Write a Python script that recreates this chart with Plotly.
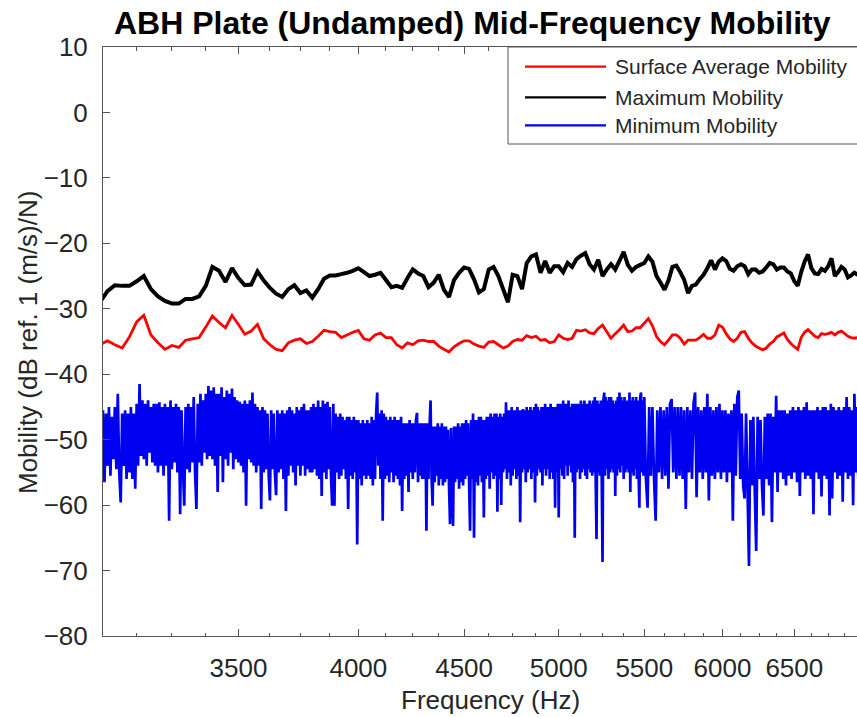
import plotly.graph_objects as go
import math

# ---------------- data ----------------
# frequency grid for the smooth curves (Hz), 25 Hz spacing
freq_curve = [3000 + 25 * i for i in range(161)]
# frequency grid for the minimum-mobility curve (Hz):
# 5 Hz spacing from 3000 to 5495, 10 Hz spacing from 5500 to 7000
freq_min = [3000 + 5 * i for i in range(500)] + [5500 + 10 * i for i in range(151)]

max_mobility = [
    -29.0, -27.3, -26.4, -26.5, -26.5, -25.8, -25.0, -27.0, -28.1, -28.8,
    -29.2, -29.2, -28.5, -28.5, -28.1, -26.5, -23.6, -24.2, -25.9, -23.8,
    -25.3, -26.4, -26.3, -24.3, -25.7, -26.8, -27.7, -28.2, -27.0, -26.4,
    -27.6, -27.2, -28.3, -27.0, -25.4, -24.9, -24.9, -24.7, -24.5, -24.2,
    -23.8, -24.4, -25.0, -24.8, -24.5, -25.6, -26.7, -26.5, -26.8, -25.3,
    -24.0, -24.6, -25.0, -26.7, -26.0, -24.8, -27.1, -28.2, -25.6, -24.5,
    -23.7, -23.9, -25.5, -27.5, -27.0, -24.0, -23.6, -25.0, -27.0, -29.0,
    -24.8, -25.0, -27.0, -23.0, -22.0, -21.7, -24.5, -22.7, -24.5, -23.5,
    -23.5, -24.4, -23.0, -23.6, -22.4, -21.9, -21.5, -23.2, -24.0, -22.5,
    -25.0, -24.0, -23.2, -24.0, -22.7, -21.3, -23.3, -24.2, -23.6, -23.3,
    -23.0, -22.0, -22.8, -25.0, -26.0, -27.1, -25.7, -23.6, -23.4, -24.4,
    -25.6, -27.6, -26.5, -26.3, -25.5, -24.8, -23.8, -22.6, -24.0, -22.8,
    -22.3, -22.7, -23.9, -24.2, -23.5, -23.2, -23.5, -24.7, -24.0, -24.0,
    -24.5, -24.3, -23.7, -23.0, -23.2, -24.0, -23.7, -23.7, -24.3, -24.6,
    -25.8, -26.5, -24.4, -22.8, -21.7, -23.8, -24.6, -24.7, -23.9, -24.2,
    -23.5, -22.3, -25.0, -24.4, -23.6, -24.0, -25.2, -24.9, -24.5, -24.8,
    -25.0,
]

avg_mobility = [
    -35.5, -34.9, -35.5, -36.0, -34.3, -32.0, -31.0, -34.0, -35.2, -36.2,
    -35.6, -35.9, -34.8, -34.6, -34.4, -32.8, -31.1, -32.1, -32.9, -31.0,
    -32.4, -33.9, -33.4, -32.4, -34.6, -35.5, -36.2, -36.4, -35.2, -34.8,
    -34.6, -35.3, -35.0, -34.2, -33.3, -33.5, -33.6, -34.4, -34.0, -33.6,
    -33.3, -34.6, -34.8, -34.0, -33.7, -34.4, -34.4, -35.5, -36.0, -35.2,
    -35.5, -34.9, -34.8, -35.0, -35.0, -35.7, -36.2, -36.6, -35.8, -35.3,
    -34.9, -34.9, -35.4, -35.7, -35.9, -35.1, -35.0, -35.5, -36.0, -35.7,
    -35.0, -34.7, -34.8, -34.1, -34.4, -34.2, -34.8, -34.7, -35.2, -35.0,
    -34.0, -34.5, -34.7, -34.5, -33.3, -33.4, -33.2, -33.7, -33.8, -33.0,
    -32.5, -33.5, -34.5, -33.8, -33.2, -32.5, -33.5, -33.4, -32.9, -32.9,
    -32.2, -31.5, -32.6, -34.2, -35.0, -35.5, -34.8, -34.0, -34.0, -34.5,
    -35.4, -34.8, -34.8, -34.8, -34.4, -33.9, -34.5, -34.5, -34.0, -32.5,
    -32.8, -33.8, -34.6, -35.0, -34.5, -33.6, -33.5, -34.5, -35.2, -35.7,
    -36.0, -36.3, -36.0, -35.4, -35.0, -34.3, -34.0, -33.7, -34.7, -35.3,
    -35.8, -36.2, -34.4, -33.6, -33.2, -33.7, -34.2, -34.4, -33.8, -33.9,
    -33.8, -33.6, -34.0, -33.6, -33.4, -33.8, -34.2, -34.4, -34.5, -34.4,
    -34.5,
]

min_mobility = [
    # 3000-3095 (5 Hz)
    -47.0, -55.0, -45.5, -56.5, -46.0, -54.0, -45.0, -55.5, -46.5, -53.0,
    -45.0, -54.5, -43.0, -55.0, -59.6, -46.0, -54.0, -45.5, -56.0, -46.0,
    # 3100
    -55.0, -45.0, -56.0, -46.0, -57.5, -44.5, -54.0, -41.5, -52.5, -44.0,
    -53.0, -44.5, -54.0, -44.0, -52.0, -45.0, -53.5, -44.5, -54.0, -44.5,
    # 3200
    -55.0, -44.3, -54.0, -45.0, -55.5, -44.5, -54.0, -45.0, -62.4, -44.0,
    -54.5, -45.0, -53.5, -44.5, -55.0, -45.0, -61.4, -45.5, -54.0, -60.1,
    # 3300
    -45.0, -54.5, -44.5, -55.0, -45.0, -53.5, -43.5, -55.0, -60.6, -44.5,
    -53.5, -43.0, -54.0, -44.0, -52.0, -43.0, -53.0, -41.8, -52.5, -42.5,
    # 3400
    -53.0, -42.0, -54.0, -43.0, -58.0, -43.0, -52.5, -42.0, -56.5, -43.5,
    -53.0, -42.5, -54.0, -43.0, -52.0, -42.2, -54.5, -43.5, -53.0, -44.0,
    # 3500
    -53.5, -44.2, -54.0, -44.5, -55.0, -44.0, -60.1, -44.5, -53.0, -44.0,
    -53.5, -42.8, -54.0, -44.5, -55.0, -45.0, -54.0, -45.5, -60.6, -45.0,
    # 3600
    -55.0, -45.5, -54.5, -46.0, -55.5, -59.3, -45.5, -54.5, -46.0, -55.0,
    -58.5, -45.5, -55.0, -46.0, -54.5, -45.5, -56.0, -46.0, -60.9, -45.5,
    # 3700
    -55.5, -45.0, -54.0, -45.5, -55.0, -46.0, -57.0, -45.0, -54.0, -45.5,
    -55.5, -45.0, -54.0, -44.5, -55.5, -45.5, -54.5, -45.5, -55.0, -45.0,
    # 3800
    -55.0, -44.5, -54.5, -45.0, -55.5, -44.0, -56.0, -45.0, -58.6, -44.0,
    -55.0, -44.5, -56.0, -44.2, -54.5, -45.0, -55.5, -60.1, -44.5, -60.1,
    # 3900
    -46.0, -55.0, -46.5, -56.0, -46.0, -55.5, -46.5, -54.5, -47.0, -56.0,
    -46.5, -60.6, -46.5, -55.5, -47.0, -56.0, -46.5, -55.0, -47.0, -66.0,
    # 4000
    -47.0, -56.0, -47.5, -57.0, -47.0, -55.5, -47.5, -56.0, -47.0, -55.5,
    -47.5, -56.0, -46.5, -57.0, -47.0, -56.0, -46.0, -42.8, -54.0, -46.0,
    # 4100
    -56.0, -45.5, -62.4, -46.0, -56.0, -46.5, -55.5, -47.0, -56.5, -46.5,
    -55.0, -47.0, -56.5, -46.5, -55.5, -47.0, -56.0, -47.0, -57.0, -46.5,
    # 4200
    -60.9, -47.5, -56.0, -47.5, -55.5, -47.5, -58.0, -47.0, -55.0, -47.5,
    -56.0, -47.5, -55.0, -47.0, -45.9, -56.5, -47.5, -55.5, -47.5, -56.0,
    # 4300
    -47.5, -56.0, -47.5, -63.9, -47.5, -56.0, -48.0, -44.0, -56.0, -60.1,
    -48.0, -56.5, -48.0, -55.5, -47.5, -57.0, -48.0, -56.0, -47.5, -57.0,
    # 4400
    -48.0, -56.5, -48.0, -56.0, -48.5, -57.0, -62.9, -48.2, -56.0, -63.2,
    -48.0, -56.5, -48.0, -56.0, -47.5, -57.5, -48.0, -56.5, -47.5, -57.0,
    # 4500
    -47.5, -56.0, -47.0, -55.5, -47.5, -56.5, -63.9, -47.0, -56.0, -46.0,
    -65.0, -47.0, -56.5, -47.0, -57.0, -46.5, -55.5, -46.5, -56.5, -47.0,
    # 4600
    -61.9, -47.0, -56.0, -46.5, -55.5, -46.5, -57.5, -46.0, -55.0, -46.5,
    -56.0, -46.0, -55.5, -46.0, -61.0, -46.5, -56.0, -46.0, -60.0, -46.5,
    # 4700
    -55.0, -46.0, -54.5, -44.3, -56.0, -45.5, -55.0, -45.5, -57.0, -45.0,
    -55.5, -45.5, -54.5, -45.5, -56.0, -45.0, -55.5, -45.5, -62.6, -45.5,
    # 4800
    -55.0, -45.3, -54.5, -45.5, -56.5, -45.0, -55.0, -45.5, -54.5, -45.0,
    -56.0, -45.5, -55.0, -45.0, -59.6, -44.5, -55.5, -45.0, -54.5, -45.5,
    # 4900
    -55.0, -45.0, -57.0, -45.0, -54.5, -44.5, -55.5, -45.0, -54.5, -45.0,
    -56.0, -44.5, -55.0, -45.0, -56.0, -45.0, -60.4, -45.0, -55.0, -44.5,
    # 5000
    -61.9, -44.5, -54.5, -44.5, -55.5, -44.0, -56.0, -44.5, -54.0, -44.5,
    -55.5, -44.0, -54.0, -45.0, -55.0, -44.5, -56.5, -44.5, -65.0, -44.5,
    # 5100
    -55.0, -44.5, -54.5, -44.5, -56.0, -44.0, -55.0, -44.5, -54.5, -44.0,
    -55.5, -44.5, -56.0, -44.5, -54.5, -44.0, -55.0, -44.5, -55.5, -44.0,
    # 5200
    -55.0, -43.5, -56.0, -65.2, -44.0, -55.0, -44.5, -55.5, -44.0, -55.0,
    -68.7, -44.0, -42.8, -55.5, -43.5, -54.5, -44.0, -56.0, -43.5, -55.0,
    # 5300
    -43.5, -54.5, -44.0, -55.0, -44.5, -58.6, -44.0, -55.5, -43.5, -54.5,
    -42.8, -55.0, -43.5, -54.0, -44.0, -56.0, -43.5, -55.0, -44.0, -54.5,
    # 5400
    -44.0, -55.0, -42.8, -58.0, -44.0, -55.0, -43.5, -55.5, -44.0, -54.5,
    -43.5, -56.0, -44.0, -55.0, -60.4, -43.5, -42.8, -55.0, -44.0, -55.5,
    # 5500 (10 Hz from here)
    -43.5, -56.0, -60.4, -45.0, -55.5, -45.0, -56.0, -62.4, -45.5, -55.0,
    # 5600
    -45.0, -56.0, -45.5, -55.5, -45.0, -57.5, -44.5, -43.8, -55.0, -45.0,
    # 5700
    -56.0, -45.0, -55.5, -45.0, -56.0, -45.5, -60.6, -45.0, -55.0, -45.5,
    # 5800
    -56.0, -44.5, -42.8, -58.8, -45.0, -55.0, -45.5, -56.0, -45.0, -55.0,
    # 5900
    -43.0, -59.3, -45.0, -55.5, -45.5, -56.0, -45.0, -55.0, -44.5, -56.0,
    # 6000
    -45.5, -55.0, -45.5, -56.5, -46.0, -55.0, -45.5, -62.4, -44.5, -55.5,
    # 6100
    -43.5, -42.5, -56.0, -46.0, -57.0, -59.0, -46.0, -57.5, -69.3, -47.0,
    # 6200
    -57.0, -46.5, -58.0, -67.0, -46.5, -56.0, -47.0, -57.0, -61.6, -46.5,
    # 6300
    -56.0, -46.0, -57.0, -46.0, -62.6, -46.5, -55.0, -43.3, -58.0, -45.5,
    # 6400
    -55.0, -45.5, -56.0, -45.5, -57.0, -46.0, -55.5, -45.5, -56.0, -45.0,
    # 6500
    -55.0, -45.5, -56.5, -45.0, -58.6, -45.5, -55.0, -45.0, -56.0, -44.3,
    # 6600
    -55.5, -45.5, -56.0, -45.5, -61.4, -45.5, -55.0, -45.0, -56.0, -45.5,
    # 6700
    -58.7, -45.0, -55.5, -45.0, -56.0, -45.5, -61.6, -44.5, -59.0, -45.0,
    # 6800
    -55.0, -45.5, -56.0, -45.0, -55.5, -45.5, -59.5, -45.0, -55.0, -43.5,
    # 6900
    -56.0, -45.0, -55.5, -45.5, -60.0, -43.0, -55.0, -45.0, -56.0, -45.5,
    # 7000
    -50.0,
]

x_tick_vals = [3500, 4000, 4500, 5000, 5500, 6000, 6500]
x_minor_vals = [3125, 3250, 3375, 3625, 3750, 3875, 4125, 4250, 4375,
                4625, 4750, 4875, 5125, 5250, 5375, 5625, 5750, 5875,
                6125, 6250, 6375, 6625, 6750, 6875]
y_tick_vals = [-80, -70, -60, -50, -40, -30, -20, -10, 0, 10]
x_limits = [3010, 6970]
y_limits = [-80, 10]

series_names = ["Surface Average Mobility", "Maximum Mobility", "Minimum Mobility"]
series_colors = ["#ff0000", "#000000", "#0000f0"]

title_text = "ABH Plate (Undamped) Mid-Frequency Mobility"
x_label = "Frequency (Hz)"
y_label = "Mobility (dB ref. 1 (m/s)/N)"

assert len(max_mobility) == len(freq_curve)
assert len(avg_mobility) == len(freq_curve)
assert len(min_mobility) == len(freq_min)

# ---------------- figure ----------------
FONT = "Liberation Sans, Arial, Helvetica, sans-serif"
AX = "#555555"
TXT = "#262626"

fig = go.Figure()
fig.add_trace(go.Scatter(x=freq_min, y=min_mobility, mode="lines",
                         line=dict(color=series_colors[2], width=2.7, simplify=False),
                         name=series_names[2], showlegend=False))
fig.add_trace(go.Scatter(x=freq_curve, y=max_mobility, mode="lines",
                         line=dict(color=series_colors[1], width=4, simplify=False),
                         name=series_names[1], showlegend=False))
fig.add_trace(go.Scatter(x=freq_curve, y=avg_mobility, mode="lines",
                         line=dict(color=series_colors[0], width=2.8, simplify=False),
                         name=series_names[0], showlegend=False))

W, H = 857, 717
L, R, T, B = 103, 0, 47, 81
PW, PH = W - L - R, H - T - B


def px_x(px):
    return (px - L) / PW


def px_y(py):
    return (H - B - py) / PH


fig.update_layout(
    width=W, height=H,
    margin=dict(l=L, r=R, t=T, b=B, pad=0),
    paper_bgcolor="white", plot_bgcolor="white",
    showlegend=False,
    font=dict(family=FONT, color=TXT),
    xaxis=dict(
        type="log",
        range=[math.log10(x_limits[0]), math.log10(x_limits[1])],
        tickmode="array", tickvals=x_tick_vals,
        ticktext=[str(v) for v in x_tick_vals],
        ticks="inside", ticklen=7, tickwidth=1, tickcolor=AX,
        showline=True, linecolor=AX, linewidth=1, mirror="ticks",
        showgrid=False, zeroline=False,
        tickfont=dict(size=26, color=TXT, family=FONT),
        ticklabelstandoff=9,
        minor=dict(tickmode="array", tickvals=x_minor_vals, ticks="inside",
                   ticklen=3.5, tickwidth=1, tickcolor=AX, showgrid=False),
    ),
    yaxis=dict(
        range=y_limits, tickmode="array", tickvals=y_tick_vals,
        ticks="inside", ticklen=7, tickwidth=1, tickcolor=AX,
        showline=True, linecolor=AX, linewidth=1, mirror=False,
        showgrid=False, zeroline=False,
        tickfont=dict(size=26, color=TXT, family=FONT),
        ticklabelstandoff=9,
    ),
    yaxis2=dict(
        overlaying="y", side="right", anchor="x",
        range=y_limits, tickmode="array", tickvals=y_tick_vals,
        ticks="inside", ticklen=7, tickwidth=1, tickcolor=AX,
        showticklabels=False, showline=False, showgrid=False, zeroline=False,
    ),
)

# legend box drawn manually
legend_rows = [66.7, 97.3, 125.3]
shapes = [dict(type="rect", xref="paper", yref="paper",
               x0=px_x(508), x1=px_x(880), y0=px_y(144), y1=px_y(47),
               fillcolor="white", line=dict(color=AX, width=1), layer="above")]
annotations = []
for name, color, row in zip(series_names, series_colors, legend_rows):
    shapes.append(dict(type="line", xref="paper", yref="paper",
                       x0=px_x(525), x1=px_x(606), y0=px_y(row), y1=px_y(row),
                       line=dict(color=color, width=2.2), layer="above"))
    annotations.append(dict(xref="paper", yref="paper", x=px_x(613), y=px_y(row),
                            text=name, showarrow=False, xanchor="left",
                            yanchor="middle",
                            font=dict(size=21, color=TXT, family=FONT)))

annotations.append(dict(xref="paper", yref="paper", x=px_x(472.5), y=px_y(23),
                        text="<b>" + title_text + "</b>", showarrow=False,
                        xanchor="center", yanchor="middle",
                        font=dict(size=32, color="#000000", family=FONT)))
annotations.append(dict(xref="paper", yref="paper", x=px_x(490), y=px_y(700),
                        text=x_label, showarrow=False, xanchor="center",
                        yanchor="middle",
                        font=dict(size=26, color=TXT, family=FONT)))
annotations.append(dict(xref="paper", yref="paper", x=px_x(27.5), y=px_y(342.5),
                        text=y_label, showarrow=False, textangle=-90,
                        xanchor="center", yanchor="middle",
                        font=dict(size=26, color=TXT, family=FONT)))

fig.update_layout(shapes=shapes, annotations=annotations)

fig.write_html("out.html")
